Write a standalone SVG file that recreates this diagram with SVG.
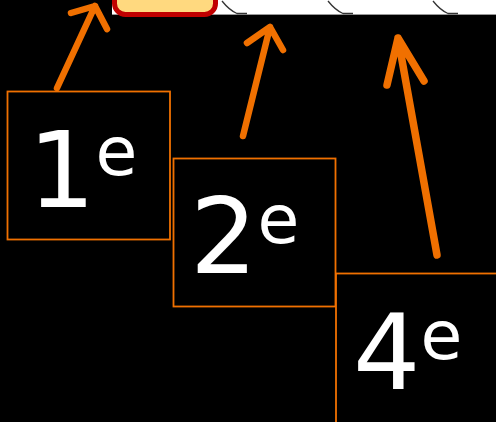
<svg xmlns="http://www.w3.org/2000/svg" width="496" height="422" viewBox="0 0 496 422">
<style>
.box{fill:#000;stroke:#f07000;stroke-width:1.8}
.num{font-family:"DejaVu Sans",sans-serif;font-size:106px;fill:#fff}
.sup{font-size:68px}
.arr{fill:none;stroke:#f07000;stroke-width:6.5;stroke-linecap:round;stroke-linejoin:round}
.tab{fill:none;stroke:#333;stroke-width:1.3}
</style>
<rect x="0" y="0" width="496" height="422" fill="#000"/>
<g id="top-band">
<rect x="112" y="0" width="384" height="14" fill="#fff"/>
<line x1="112" y1="14.5" x2="496" y2="14.5" stroke="#999" stroke-width="1"/>
<path class="tab" d="M222,1 C226,6 231,11 237,13.5 L247,13.5"/>
<path class="tab" d="M328,1 C332,6 337,11 343,13.5 L353,13.5"/>
<path class="tab" d="M433,1 C437,6 442,11 448,13.5 L458,13.5"/>
<rect x="114.5" y="-20" width="101" height="34.5" rx="11" fill="#ffd97f" stroke="#c00000" stroke-width="5"/>
</g>
<g id="node-1e">
<rect class="box" x="7.5" y="91.5" width="162.5" height="148"/>
<text class="num" x="28" y="207">1<tspan class="sup" dy="-32">e</tspan></text>
</g>
<g id="node-2e">
<rect class="box" x="173.5" y="158.5" width="162" height="148"/>
<text class="num" x="190" y="273">2<tspan class="sup" dy="-30">e</tspan></text>
</g>
<g id="node-4e">
<rect class="box" x="336" y="273.5" width="162" height="150"/>
<text class="num" x="353" y="389">4<tspan class="sup" dy="-30">e</tspan></text>
</g>
<g id="connectors">
<path class="arr" d="M57,88 L95,6 M71,13 L95,6 L107,29"/>
<path class="arr" d="M243,136 L270,27 M247,43 L270,27 L283,50"/>
<path class="arr" style="stroke-width:7.5" d="M437,255 L398,38 M387,85 L398,38 L424,81"/>
</g>
</svg>
